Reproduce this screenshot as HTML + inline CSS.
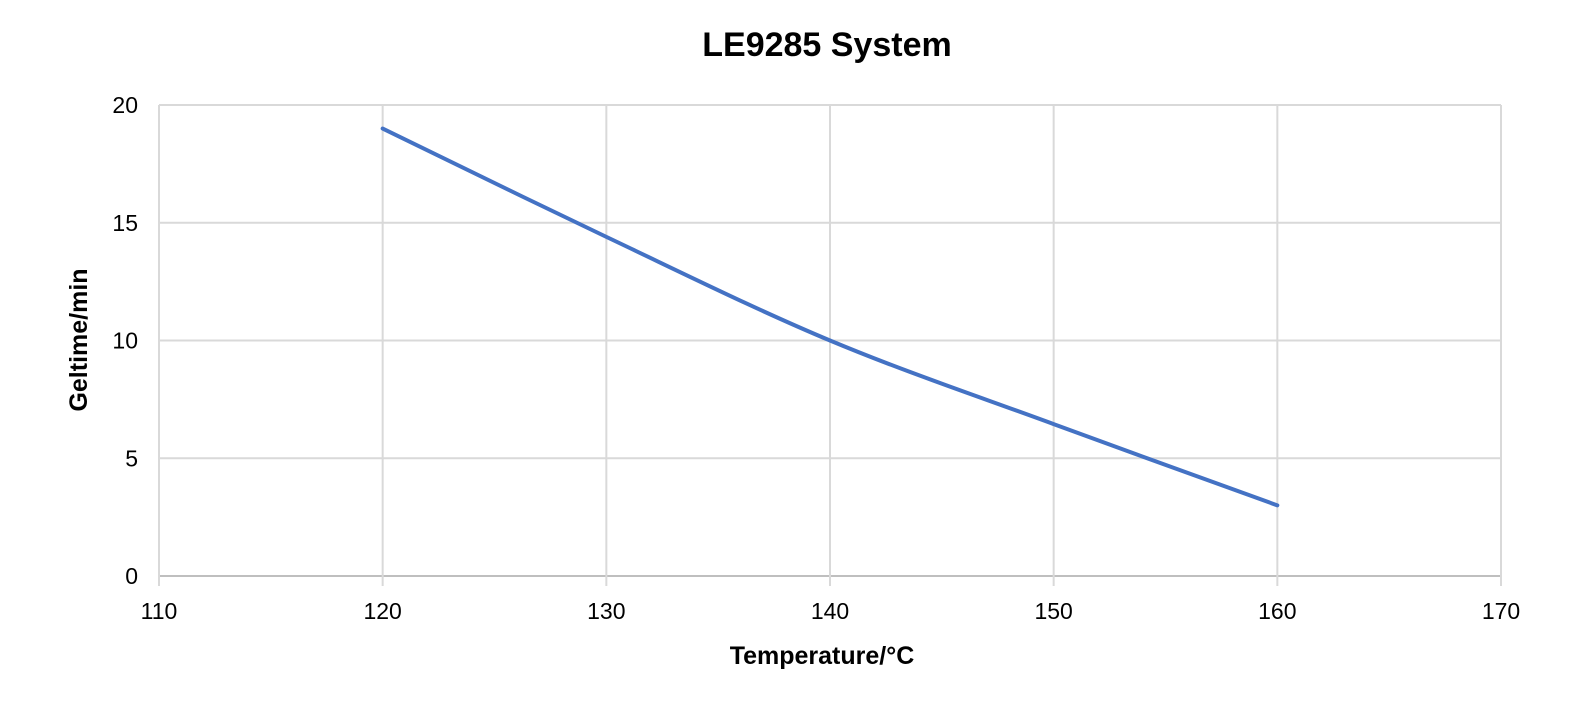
<!DOCTYPE html>
<html><head><meta charset="utf-8"><style>
body{margin:0;background:#fff;}
svg{display:block;font-family:"Liberation Sans",Arial,sans-serif;}
</style></head><body>
<svg id="chart" width="1569" height="707">
<text x="827" y="56" text-anchor="middle" font-size="34" font-weight="bold" fill="#000">LE9285 System</text>
<g id="grid"></g>
<g id="ticks"></g>
<path id="line" fill="none" stroke="#4472C4" stroke-width="4" stroke-linecap="round"/>
<text x="822" y="664" text-anchor="middle" font-size="25" font-weight="bold" fill="#000">Temperature/°C</text>
<text transform="translate(87,340) rotate(-90)" text-anchor="middle" font-size="25" font-weight="bold" fill="#000">Geltime/min</text>
</svg>
<script>
const xValues=[120,130,140,150,160];
const yValues=[19,14.4,10,6.45,3];
const xTicks=[110,120,130,140,150,160,170];
const yTicks=[0,5,10,15,20];
const X0=159,X1=1501,Y0=576,Y1=105;
function sx(v){return X0+(v-110)/60*(X1-X0);}
function sy(v){return Y0-v/20*(Y0-Y1);}
const ns="http://www.w3.org/2000/svg";
const grid=document.getElementById('grid'),ticks=document.getElementById('ticks');
function mk(tag,attrs,parent){const e=document.createElementNS(ns,tag);for(const k in attrs)e.setAttribute(k,attrs[k]);parent.appendChild(e);return e;}
yTicks.forEach(t=>{
 const l=mk('line',{x1:X0,x2:X1,y1:sy(t),y2:sy(t),stroke:t===0?'#bfbfbf':'#d9d9d9','stroke-width':2},grid);
 
 
 const tx=mk('text',{x:138,y:sy(t)+8,'text-anchor':'end','font-size':23,fill:'#000'},ticks);
 tx.textContent=t;
 
 
});
xTicks.forEach(t=>{
 const l=mk('line',{x1:sx(t),x2:sx(t),y1:Y1,y2:Y0+10,stroke:'#d9d9d9','stroke-width':2},grid);
 
 
 const tx=mk('text',{x:sx(t),y:619,'text-anchor':'middle','font-size':23,fill:'#000'},ticks);
 tx.textContent=t;
 
 
});
const pts=xValues.map((v,i)=>[sx(v),sy(yValues[i])]);
let d='M'+pts[0][0]+','+pts[0][1];
for(let i=0;i<pts.length-1;i++){
 const p0=pts[Math.max(i-1,0)],p1=pts[i],p2=pts[i+1],p3=pts[Math.min(i+2,pts.length-1)];
 const c1=[p1[0]+(p2[0]-p0[0])/6,p1[1]+(p2[1]-p0[1])/6];
 const c2=[p2[0]-(p3[0]-p1[0])/6,p2[1]-(p3[1]-p1[1])/6];
 d+=` C${c1[0]},${c1[1]} ${c2[0]},${c2[1]} ${p2[0]},${p2[1]}`;
}
document.getElementById('line').setAttribute('d',d);
</script>
</body></html>
